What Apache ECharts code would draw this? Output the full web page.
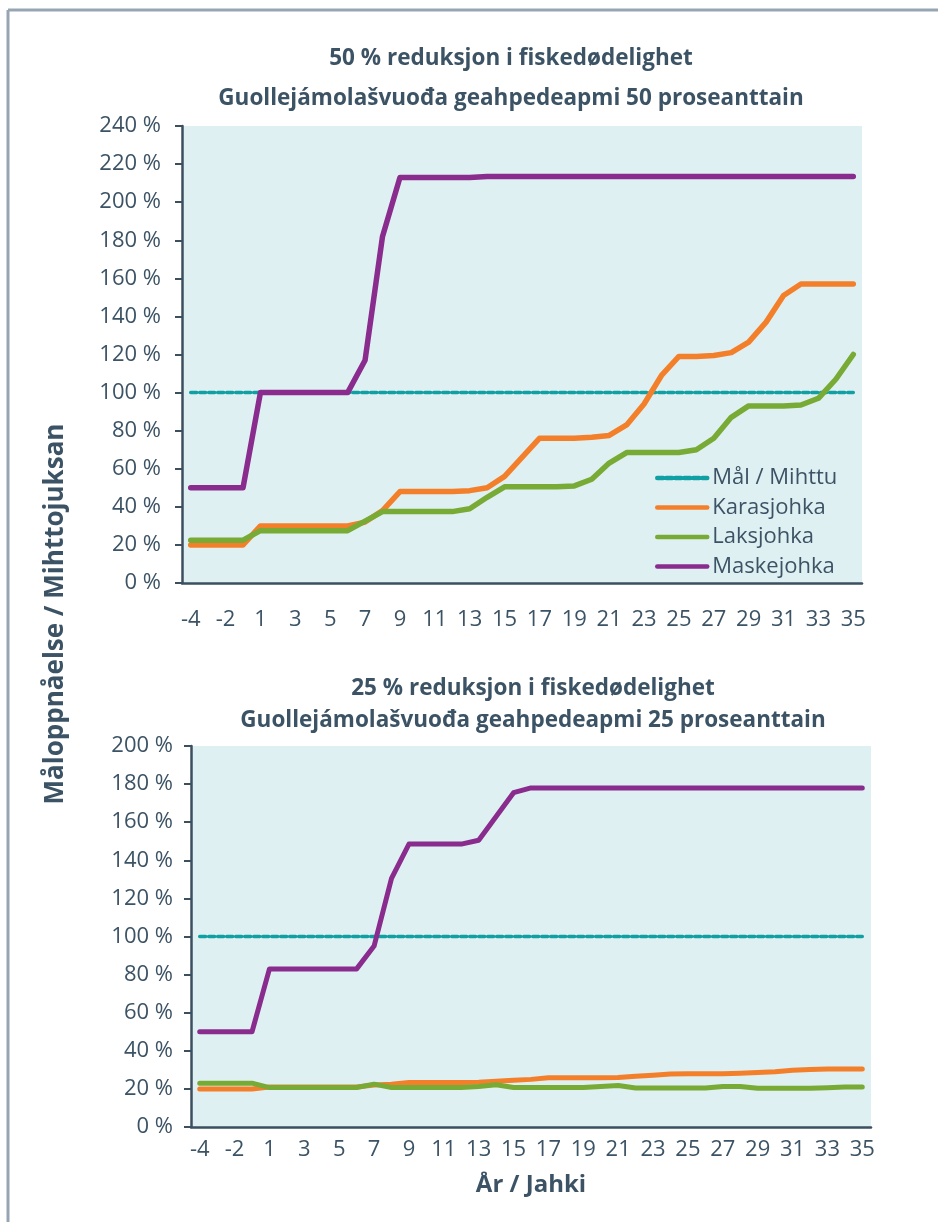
<!DOCTYPE html>
<html>
<head>
<meta charset="utf-8">
<title>Måloppnåelse / Mihttojuksan</title>
<script src="https://cdn.jsdelivr.net/npm/echarts@6/dist/echarts.min.js"></script>
<style>
  html, body { margin: 0; padding: 0; background: #fff; }
  #chart { width: 938px; height: 1222px; }
</style>
</head>
<body>
<div id="chart"></div>
<script>
// år / jahki
var years = ['-4', '-3', '-2', '-1', '1', '2', '3', '4', '5', '6', '7', '8', '9', '10',
  '11', '12', '13', '14', '15', '16', '17', '18', '19', '20', '21', '22', '23', '24',
  '25', '26', '27', '28', '29', '30', '31', '32', '33', '34', '35'];

// mål / mihttu
var target = [100, 100, 100, 100, 100, 100, 100, 100, 100, 100, 100, 100, 100, 100,
  100, 100, 100, 100, 100, 100, 100, 100, 100, 100, 100, 100, 100, 100,
  100, 100, 100, 100, 100, 100, 100, 100, 100, 100, 100];

// 50 % reduksjon
var kara50 = [20, 20, 20, 20, 30, 30, 30, 30, 30, 30, 32, 38, 48, 48,
  48, 48, 48.5, 50, 56, 66, 76, 76, 76, 76.5, 77.5, 83, 94, 109,
  119, 119, 119.5, 121, 126.5, 137, 151, 157, 157, 157, 157];
var laks50 = [22.5, 22.5, 22.5, 22.5, 27.5, 27.5, 27.5, 27.5, 27.5, 27.5, 32.5, 37.5, 37.5, 37.5,
  37.5, 37.5, 39, 45, 50.5, 50.5, 50.5, 50.5, 51, 54.5, 63, 68.5, 68.5, 68.5,
  68.5, 70, 76, 87, 93, 93, 93, 93.5, 97, 107, 120];
var mask50 = [50, 50, 50, 50, 100, 100, 100, 100, 100, 100, 117, 182, 213, 213,
  213, 213, 213, 213.5, 213.5, 213.5, 213.5, 213.5, 213.5, 213.5, 213.5, 213.5, 213.5, 213.5,
  213.5, 213.5, 213.5, 213.5, 213.5, 213.5, 213.5, 213.5, 213.5, 213.5, 213.5];

// 25 % reduksjon
var kara25 = [20, 20, 20, 20, 21, 21, 21, 21, 21, 21, 22, 22.5, 23.3, 23.3,
  23.3, 23.3, 23.5, 24, 24.5, 25, 25.8, 25.8, 25.8, 25.8, 26, 26.7, 27.2, 27.8,
  28, 28, 28, 28.2, 28.6, 29, 29.8, 30.2, 30.5, 30.5, 30.5];
var laks25 = [23, 23, 23, 23, 20.7, 20.7, 20.7, 20.7, 20.7, 20.7, 22.5, 20.7, 20.7, 20.7,
  20.7, 20.7, 21.3, 22.2, 20.7, 20.7, 20.7, 20.7, 20.7, 21.3, 21.8, 20.5, 20.5, 20.5,
  20.5, 20.5, 21.3, 21.3, 20.3, 20.3, 20.3, 20.3, 20.6, 21, 21];
var mask25 = [50, 50, 50, 50, 83, 83, 83, 83, 83, 83, 95, 130.5, 148.5, 148.5,
  148.5, 148.5, 150.5, 163, 175.5, 178, 178, 178, 178, 178, 178, 178, 178, 178,
  178, 178, 178, 178, 178, 178, 178, 178, 178, 178, 178];

var seriesNames = ['Mål / Mihttu', 'Karasjohka', 'Laksjohka', 'Maskejohka'];
var colors = ['#10a0a3', '#f47f2a', '#78aa36', '#8a2b8e'];

var textColor = '#3c5365';
var axisColor = '#3c4f5f';
var font = '"Open Sans", "DejaVu Sans", sans-serif';

// felles akse-oppsett
function xAxisFor(gridIndex, labelMargin) {
  return {
    type: 'category',
    gridIndex: gridIndex,
    data: years,
    boundaryGap: true,
    axisLine: { lineStyle: { color: axisColor, width: 2.5 } },
    axisTick: { interval: 0, length: 8, lineStyle: { color: axisColor, width: 2 } },
    axisLabel: { interval: 1, color: textColor, fontSize: 22, fontFamily: font, margin: labelMargin },
    splitLine: { show: false }
  };
}
function yAxisFor(gridIndex, max, labelMargin) {
  return {
    type: 'value',
    gridIndex: gridIndex,
    min: 0,
    max: max,
    interval: 20,
    axisLine: { show: true, lineStyle: { color: axisColor, width: 2.5 } },
    axisTick: { show: true, length: 7, lineStyle: { color: axisColor, width: 2 } },
    axisLabel: { color: textColor, fontSize: 22, fontFamily: font, margin: labelMargin, formatter: '{value} %' },
    splitLine: { show: false }
  };
}
function seriesFor(idx, data, width, axisIdx) {
  var dashed = idx === 0;
  return {
    type: 'line',
    name: seriesNames[idx],
    xAxisIndex: axisIdx,
    yAxisIndex: axisIdx,
    data: data,
    showSymbol: false,
    symbol: 'none',
    silent: true,
    z: 2 + idx,
    color: colors[idx],
    lineStyle: {
      color: colors[idx],
      width: dashed ? 3.5 : width,
      type: dashed ? [6, 3] : 'solid',
      cap: 'round',
      join: 'round'
    }
  };
}

var chart = echarts.init(document.getElementById('chart'), null, { renderer: 'canvas' });

var option = {
  backgroundColor: '#ffffff',
  animation: false,
  textStyle: { fontFamily: font },
  title: [
    {
      text: '50 % reduksjon i fiskedødelighet\nGuollejámolašvuođa geahpedeapmi 50 proseanttain',
      left: 506, top: 34, textAlign: 'center',
      textStyle: { color: textColor, fontSize: 22.5, fontWeight: 'bold', fontFamily: font, lineHeight: 40 }
    },
    {
      text: '25 % reduksjon i fiskedødelighet\nGuollejámolašvuođa geahpedeapmi 25 proseanttain',
      left: 528, top: 668, textAlign: 'center',
      textStyle: { color: textColor, fontSize: 22.5, fontWeight: 'bold', fontFamily: font, lineHeight: 32 }
    }
  ],
  legend: {
    orient: 'vertical',
    left: 650, top: 462,
    itemWidth: 50, itemHeight: 14, itemGap: 7.5,
    itemStyle: { opacity: 0 },
    lineStyle: { width: 4.5 },
    textStyle: { color: textColor, fontSize: 22, fontFamily: font },
    data: seriesNames
  },
  grid: [
    { left: 182, top: 126, width: 680, height: 457, show: true, backgroundColor: '#dff0f2', borderWidth: 0 },
    { left: 191, top: 746, width: 680, height: 381, show: true, backgroundColor: '#dff0f2', borderWidth: 0 }
  ],
  xAxis: [
    xAxisFor(0, 26),
    echarts.util.merge(xAxisFor(1, 12), {
      name: 'År / Jahki', nameLocation: 'middle', nameGap: 46,
      nameTextStyle: { color: textColor, fontSize: 24, fontWeight: 'bold', fontFamily: font }
    })
  ],
  yAxis: [yAxisFor(0, 240, 21), yAxisFor(1, 200, 18)],
  graphic: [
    // ramme
    { type: 'line', shape: { x1: 8, y1: 10, x2: 938, y2: 10 }, style: { stroke: '#97a5b3', lineWidth: 3 } },
    { type: 'line', shape: { x1: 8, y1: 10, x2: 8, y2: 1222 }, style: { stroke: '#97a5b3', lineWidth: 3 } },
    {
      type: 'text', x: 56, y: 614, rotation: Math.PI / 2,
      style: {
        text: 'Måloppnåelse / Mihttojuksan', fill: textColor, fontSize: 26, fontWeight: 'bold',
        fontFamily: font, align: 'center', verticalAlign: 'middle'
      }
    }
  ],
  series: [
    seriesFor(0, target, 5.5, 0),
    seriesFor(1, kara50, 5.5, 0),
    seriesFor(2, laks50, 5.5, 0),
    seriesFor(3, mask50, 5.5, 0),
    seriesFor(0, target, 5, 1),
    seriesFor(1, kara25, 5, 1),
    seriesFor(2, laks25, 5, 1),
    seriesFor(3, mask25, 5, 1)
  ]
};

chart.setOption(option);
</script>
</body>
</html>
